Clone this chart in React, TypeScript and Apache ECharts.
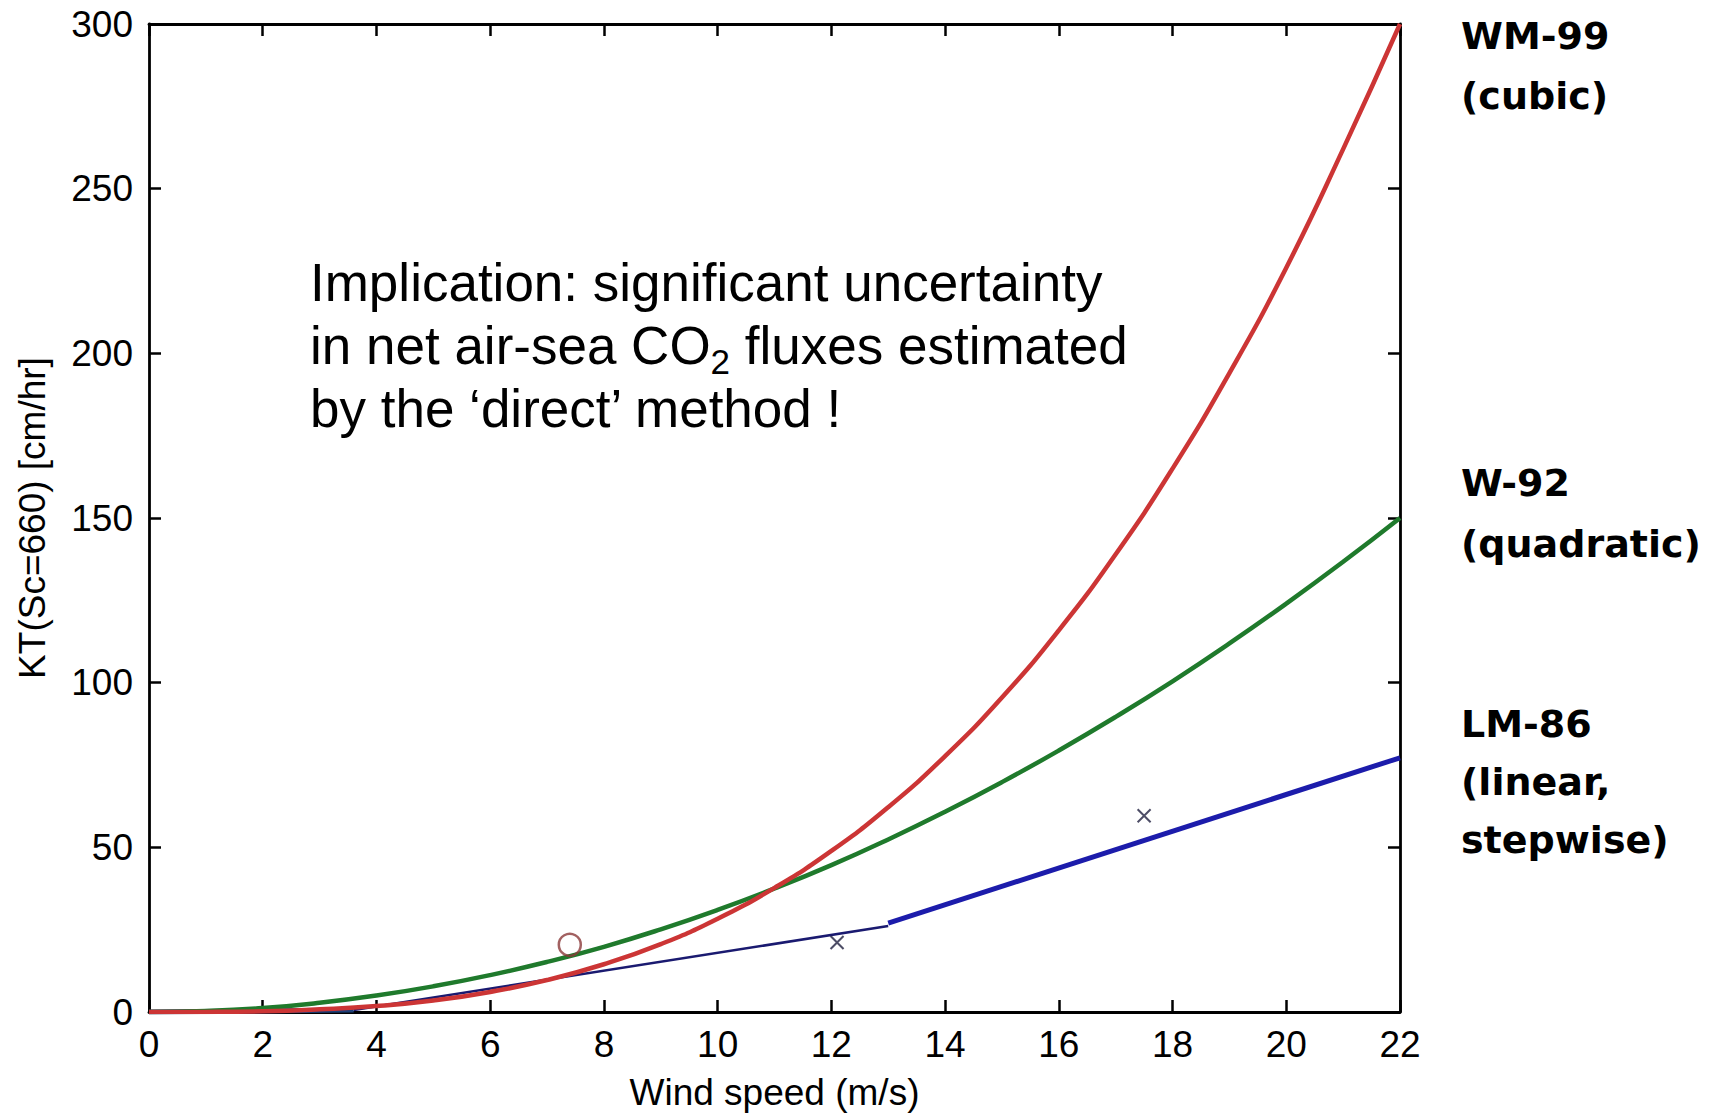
import React, { useEffect, useRef } from "react";
import * as echarts from "echarts";

// Wind speed (m/s) sample points
const windSpeed = [0, 1, 2, 3, 4, 5, 6, 7, 8, 9, 10, 11, 12, 13, 14, 15, 16, 17, 18, 19, 20, 21, 22];
// WM-99 (cubic), KT in cm/hr
const wm99Cubic = [0, 0.03, 0.2, 0.8, 1.8, 3.5, 6.1, 9.7, 14.5, 20.6, 28.3, 37.7, 48.9, 62.2, 77.7, 95.5, 115.9, 139, 165, 194, 226, 262, 300];
// W-92 (quadratic)
const w92Quadratic = [0, 0.3, 1.2, 2.8, 5.0, 7.8, 11.2, 15.2, 19.8, 25.1, 31.0, 37.5, 44.6, 52.4, 60.8, 69.8, 79.4, 89.6, 100.4, 111.9, 124, 136.7, 150];
// LM-86 (linear, stepwise) break points
const lm86SpeedLow = [0, 3.6];
const lm86ValueLow = [0, 0.6];
const lm86SpeedMid = [3.6, 13];
const lm86ValueMid = [0.6, 26.1];
const lm86SpeedHigh = [13, 22];
const lm86ValueHigh = [27.0, 77.2];
// Observations
const circleObs = [[7.4, 20.4]];
const crossObs = [[12.1, 21.1], [17.5, 59.6]];

const xTicks = { min: 0, max: 22, interval: 2 };
const yTicks = { min: 0, max: 300, interval: 50 };

const annotationLines = [
  "Implication: significant uncertainty",
  "in net air-sea CO{sub|2} fluxes estimated",
  "by the \u2018direct\u2019 method !",
];
const rightLabels = [
  ["WM-99", "(cubic)"],
  ["W-92", "(quadratic)"],
  ["LM-86", "(linear,", "stepwise)"],
];

const zip = (xs: number[], ys: number[]) => xs.map((x, i) => [x, ys[i]]);

export default function App() {
  const ref = useRef<HTMLDivElement>(null);
  useEffect(() => {
    if (!ref.current) return;
    const chart = echarts.init(ref.current, undefined, { renderer: "svg" });
    const axisFont = { fontFamily: "'Liberation Sans', Arial, sans-serif", fontSize: 37, color: "#000" };
    const lineStyleAxis = { color: "#000", width: 2.8 };
    const tick = { show: true, inside: true, length: 12, lineStyle: { color: "#000", width: 2.5 } };

    const labelTops = [36, 483, 724];
    const labelGap = [60, 61, 58];
    const graphics: any[] = [];
    annotationLines.forEach((t, i) => {
      graphics.push({
        type: "text",
        x: 310,
        y: 282 + i * 63,
        style: {
          text: t,
          fontFamily: "'Liberation Sans', Arial, sans-serif",
          fontSize: 53,
          fill: "#000",
          align: "left",
          verticalAlign: "middle",
          rich: {
            sub: {
              fontFamily: "'Liberation Sans', Arial, sans-serif",
              fontSize: 35,
              fill: "#000",
              verticalAlign: "bottom",
              lineHeight: 68,
            },
          },
        },
      });
    });
    rightLabels.forEach((lines, gi) => {
      lines.forEach((t, li) => {
        graphics.push({
          type: "text",
          x: 1461,
          y: labelTops[gi] + li * labelGap[gi],
          style: {
            text: t,
            fontFamily: "'DejaVu Sans', sans-serif",
            fontWeight: "bold",
            fontSize: 38,
            fill: "#000",
            align: "left",
            verticalAlign: "middle",
          },
        });
      });
    });

    chart.setOption({
      animation: false,
      backgroundColor: "#fff",
      grid: { left: 149, right: 329, top: 24, bottom: 105, containLabel: false },
      xAxis: [
        {
          type: "value",
          ...xTicks,
          name: "Wind speed (m/s)",
          nameLocation: "middle",
          nameGap: 62,
          nameTextStyle: axisFont,
          axisLine: { show: true, onZero: false, lineStyle: lineStyleAxis },
          axisTick: tick,
          axisLabel: { ...axisFont, margin: 14 },
          splitLine: { show: false },
        },
        {
          type: "value",
          position: "top",
          ...xTicks,
          axisLine: { show: true, onZero: false, lineStyle: lineStyleAxis },
          axisTick: tick,
          axisLabel: { show: false },
          splitLine: { show: false },
        },
      ],
      yAxis: [
        {
          type: "value",
          ...yTicks,
          name: "KT(Sc=660) [cm/hr]",
          nameLocation: "middle",
          nameGap: 98,
          nameTextStyle: axisFont,
          axisLine: { show: true, onZero: false, lineStyle: lineStyleAxis },
          axisTick: tick,
          axisLabel: { ...axisFont, margin: 16 },
          splitLine: { show: false },
        },
        {
          type: "value",
          position: "right",
          ...yTicks,
          axisLine: { show: true, onZero: false, lineStyle: lineStyleAxis },
          axisTick: tick,
          axisLabel: { show: false },
          splitLine: { show: false },
        },
      ],
      series: [
        {
          type: "line",
          name: "LM-86 low",
          data: zip(lm86SpeedLow, lm86ValueLow),
          showSymbol: false,
          lineStyle: { color: "#1d3f78", width: 5 },
          z: 3,
        },
        {
          type: "line",
          name: "LM-86 mid",
          data: zip(lm86SpeedMid, lm86ValueMid),
          showSymbol: false,
          lineStyle: { color: "#1a1a70", width: 2.5 },
          z: 3,
        },
        {
          type: "line",
          name: "LM-86 high",
          data: zip(lm86SpeedHigh, lm86ValueHigh),
          showSymbol: false,
          lineStyle: { color: "#1c1cab", width: 5 },
          z: 3,
        },
        {
          type: "line",
          name: "W-92",
          data: zip(windSpeed, w92Quadratic),
          smooth: true,
          showSymbol: false,
          lineStyle: { color: "#1f7a2c", width: 4.5 },
          z: 4,
        },
        {
          type: "line",
          name: "WM-99",
          data: zip(windSpeed, wm99Cubic),
          smooth: true,
          showSymbol: false,
          lineStyle: { color: "#cc3535", width: 4.5 },
          z: 5,
        },
        {
          type: "scatter",
          name: "obs circle",
          data: circleObs,
          symbol: "circle",
          symbolSize: 22,
          itemStyle: { color: "rgba(0,0,0,0)", borderColor: "#8b3a3a", borderWidth: 2.5 },
          z: 6,
        },
        {
          type: "scatter",
          name: "obs cross",
          data: crossObs,
          symbol: "path://M0,0L10,10M10,0L0,10",
          symbolSize: 13,
          itemStyle: { color: "none", borderColor: "#202040", borderWidth: 2 },
          z: 6,
        },
      ],
      graphic: graphics,
    });
    return () => chart.dispose();
  }, []);
  return (
    <div
      ref={ref}
      style={{ position: "fixed", left: 0, top: 0, width: 1729, height: 1117, background: "#fff" }}
    />
  );
}
